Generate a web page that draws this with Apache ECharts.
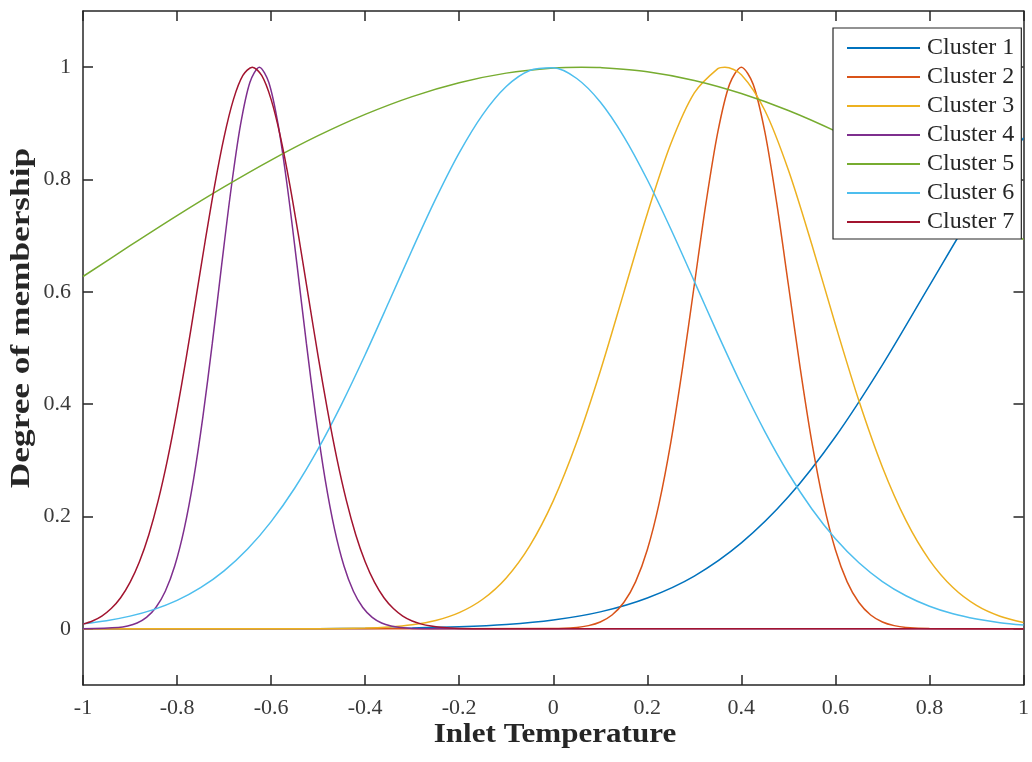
<!DOCTYPE html>
<html>
<head>
<meta charset="utf-8">
<script src="https://cdn.jsdelivr.net/npm/echarts@6/dist/echarts.min.js"></script>
<style>
html,body{margin:0;padding:0;background:#fff;}
#chart{width:1032px;height:762px;}
</style>
</head>
<body>
<div id="chart"></div>
<script>
const seriesNames = ['Cluster 1','Cluster 2','Cluster 3','Cluster 4','Cluster 5','Cluster 6','Cluster 7'];
const colors = ['#0072BD','#D95319','#EDB120','#7E2F8E','#77AC30','#4DBEEE','#A2142F'];
const xTicks = [-1,-0.8,-0.6,-0.4,-0.2,0,0.2,0.4,0.6,0.8,1];
const yTicks = [0,0.2,0.4,0.6,0.8,1];
const xTitle = 'Inlet Temperature';
const yTitle = 'Degree of membership';

const x1 = [-1,-0.9,-0.8,-0.7,-0.6,-0.5,-0.4,-0.3,-0.2,-0.1,0,0.1,0.2,0.3,0.4,0.5,0.6,0.7,0.8,0.9,1];
const y1 = [0,0,0,0,0.0001,0.0003,0.0007,0.0016,0.0036,0.0077,0.0157,0.0302,0.055,0.094,0.153,0.235,0.342,0.470,0.611,0.751,0.874];

const x2 = [-1,-0.5,0,0.05,0.075,0.1,0.125,0.15,0.175,0.2,0.225,0.25,0.275,0.3,0.325,0.35,0.375,0.4,0.425,0.45,0.475,0.5,0.525,0.55,0.575,0.6,0.625,0.65,0.675,0.7,0.725,0.75,0.8,1];
const y2 = [0,0,0.0004,0.0025,0.0057,0.0122,0.0246,0.0468,0.0837,0.1409,0.2230,0.3320,0.4650,0.6126,0.7591,0.8847,0.9698,1,0.9698,0.8847,0.7591,0.6126,0.4650,0.3320,0.2230,0.1409,0.0837,0.0468,0.0246,0.0122,0.0057,0.0025,0.0004,0];

const x3 = [-1,-0.6,-0.5,-0.4,-0.35,-0.3,-0.25,-0.2,-0.15,-0.1,-0.05,0,0.05,0.1,0.15,0.2,0.25,0.3,0.35,0.365,0.4,0.45,0.5,0.55,0.6,0.65,0.7,0.75,0.8,0.85,0.9,0.95,1];
const y3 = [0,0,0.0002,0.0015,0.0034,0.0074,0.0150,0.0289,0.0527,0.0907,0.1478,0.2279,0.3325,0.4586,0.5986,0.7392,0.8635,0.9542,0.9975,1,0.9865,0.9229,0.8169,0.6839,0.5417,0.4059,0.2877,0.1930,0.1224,0.0735,0.0417,0.0224,0.0114];

const x4 = [-1,-0.925,-0.905,-0.885,-0.865,-0.845,-0.825,-0.805,-0.785,-0.765,-0.745,-0.725,-0.705,-0.685,-0.665,-0.645,-0.625,-0.605,-0.585,-0.565,-0.545,-0.525,-0.505,-0.485,-0.465,-0.445,-0.425,-0.405,-0.385,-0.365,-0.345,-0.325,-0.3,-0.2,1];
const y4 = [0.0001,0.0023,0.0050,0.0104,0.0204,0.0379,0.0669,0.1119,0.1772,0.2658,0.3778,0.5086,0.6488,0.7840,0.8975,0.9733,1,0.9733,0.8975,0.7840,0.6488,0.5086,0.3778,0.2658,0.1772,0.1119,0.0669,0.0379,0.0204,0.0104,0.0050,0.0023,0.0008,0,0];

const x5 = [-1,-0.9,-0.8,-0.7,-0.6,-0.5,-0.4,-0.3,-0.2,-0.1,0,0.06,0.1,0.2,0.3,0.4,0.5,0.6,0.7,0.8,0.9,1];
const y5 = [0.6273,0.6821,0.7357,0.7868,0.8346,0.8780,0.9159,0.9476,0.9723,0.9894,0.9985,1,0.9993,0.9919,0.9764,0.9531,0.9228,0.8860,0.8437,0.7967,0.7462,0.6930];

const x6 = [-1,-0.95,-0.9,-0.85,-0.8,-0.75,-0.7,-0.65,-0.6,-0.55,-0.5,-0.45,-0.4,-0.35,-0.3,-0.25,-0.2,-0.15,-0.1,-0.05,0,0.05,0.1,0.15,0.2,0.25,0.3,0.35,0.4,0.45,0.5,0.55,0.6,0.65,0.7,0.75,0.8,0.85,0.9,0.95,1];
const y6 = [0.0091,0.0145,0.0226,0.0342,0.0506,0.0732,0.1032,0.1420,0.1909,0.2503,0.3203,0.4002,0.4880,0.5809,0.6750,0.7654,0.8474,0.9156,0.9656,0.9941,0.9989,0.9798,0.9380,0.8765,0.7995,0.7118,0.6187,0.5248,0.4345,0.3512,0.2770,0.2133,0.1603,0.1176,0.0842,0.0589,0.0402,0.0267,0.0174,0.0110,0.0068];

const x7 = [-1,-0.98,-0.96,-0.94,-0.92,-0.9,-0.88,-0.86,-0.84,-0.82,-0.8,-0.78,-0.76,-0.74,-0.72,-0.7,-0.68,-0.66,-0.64,-0.62,-0.6,-0.58,-0.56,-0.54,-0.52,-0.5,-0.48,-0.46,-0.44,-0.42,-0.4,-0.38,-0.36,-0.34,-0.32,-0.3,-0.28,-0.26,-0.24,-0.2,-0.14,1];
const y7 = [0.0084,0.0140,0.0228,0.0361,0.0554,0.0826,0.1194,0.1676,0.2286,0.3025,0.3888,0.4852,0.5878,0.6914,0.7897,0.8756,0.9427,0.9853,1,0.9853,0.9427,0.8756,0.7897,0.6914,0.5878,0.4852,0.3888,0.3025,0.2286,0.1676,0.1194,0.0826,0.0554,0.0361,0.0228,0.0140,0.0084,0.0049,0.0027,0.0008,0.0001,0];

const xsAll = [x1,x2,x3,x4,x5,x6,x7];
const ysAll = [y1,y2,y3,y4,y5,y6,y7];

const axisColor = '#262626';
const labelColor = '#3a3a3a';
const font = 'Liberation Serif, Times New Roman, serif';

const chart = echarts.init(document.getElementById('chart'), null, {renderer:'canvas'});

const series = seriesNames.map((name, i) => ({
  name: name,
  type: 'line',
  xAxisIndex: 0,
  yAxisIndex: 0,
  data: xsAll[i].map((x, j) => [x, ysAll[i][j]]),
  showSymbol: false,
  symbol: 'none',
  smooth: 0.3,
  lineStyle: {color: colors[i], width: 1.5},
  itemStyle: {color: colors[i]},
  animation: false,
  clip: true
}));

const option = {
  backgroundColor: '#ffffff',
  animation: false,
  grid: {left: 83, right: 5, top: 11, bottom: 77, containLabel: false},
  xAxis: [
    {
      type: 'value', position: 'bottom', min: -1, max: 1, interval: 0.2,
      axisLine: {show: true, onZero: false, lineStyle: {color: axisColor, width: 1.5}},
      axisTick: {show: true, inside: true, length: 10, lineStyle: {color: axisColor, width: 1.5}},
      axisLabel: {show: true, margin: 12, color: labelColor, fontSize: 22, fontFamily: font,
        formatter: v => String(Math.round(v * 10) / 10)},
      splitLine: {show: false}
    },
    {
      type: 'value', position: 'top', min: -1, max: 1, interval: 0.2,
      axisLine: {show: true, onZero: false, lineStyle: {color: axisColor, width: 1.5}},
      axisTick: {show: true, inside: true, length: 10, lineStyle: {color: axisColor, width: 1.5}},
      axisLabel: {show: false},
      splitLine: {show: false}
    }
  ],
  yAxis: [
    {
      type: 'value', position: 'left', min: -0.1, max: 1.1,
      axisLine: {show: true, onZero: false, lineStyle: {color: axisColor, width: 1.5}},
      axisTick: {show: true, inside: true, length: 10, customValues: yTicks, lineStyle: {color: axisColor, width: 1.5}},
      axisLabel: {show: true, margin: 12, color: labelColor, fontSize: 22, fontFamily: font, customValues: yTicks,
        formatter: v => String(Math.round(v * 10) / 10)},
      splitLine: {show: false}
    },
    {
      type: 'value', position: 'right', min: -0.1, max: 1.1,
      axisLine: {show: true, onZero: false, lineStyle: {color: axisColor, width: 1.5}},
      axisTick: {show: true, inside: true, length: 10, customValues: yTicks, lineStyle: {color: axisColor, width: 1.5}},
      axisLabel: {show: false},
      splitLine: {show: false}
    }
  ],
  legend: {
    show: true,
    orient: 'vertical',
    left: 833, top: 28,
    padding: [8, 7, 5, 14],
    itemWidth: 73, itemHeight: 2, itemGap: 5,
    icon: 'rect',
    backgroundColor: '#ffffff',
    borderColor: '#262626', borderWidth: 1.2,
    textStyle: {fontSize: 24, fontFamily: font, color: '#262626', lineHeight: 22, padding: [0, 0, 0, 2]},
    data: seriesNames.map((n, i) => ({name: n, itemStyle: {color: colors[i]}}))
  },
  graphic: [
    {
      type: 'text',
      x: 22, y: 318,
      rotation: Math.PI / 2,
      scaleX: 1.26,
      style: {
        text: yTitle,
        font: 'bold 28px ' + font,
        fill: '#262626',
        align: 'center',
        verticalAlign: 'middle'
      }
    },
    {
      type: 'text',
      x: 555, y: 735,
      scaleX: 1.11,
      style: {
        text: xTitle,
        font: 'bold 28px ' + font,
        fill: '#262626',
        align: 'center',
        verticalAlign: 'middle'
      }
    }
  ],
  series: series
};
chart.setOption(option);
</script>
</body>
</html>
